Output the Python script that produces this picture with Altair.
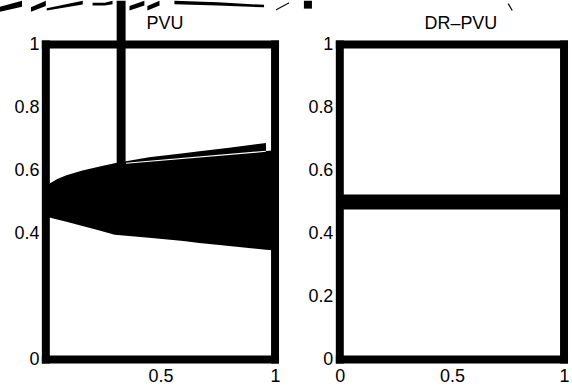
import altair as alt
import pandas as pd

FONT = "Liberation Sans"

# ---- panel titles ----
titles = ["PVU", "DR\u2013PVU"]
title_x = [0.52, 0.54]
title_y = 1.05

# ---- PVU panel: fan of trajectories (envelope) ----
fan_x = [0.0, 0.02, 0.05, 0.09, 0.16, 0.23, 0.30, 0.45, 0.60, 0.67, 0.80, 0.96, 0.961, 1.0]
fan_upper = [0.545, 0.56, 0.573, 0.585, 0.600, 0.612, 0.623, 0.642, 0.655, 0.661, 0.672, 0.687, 0.662, 0.664]
fan_lower = [0.455, 0.45, 0.444, 0.437, 0.424, 0.410, 0.396, 0.386, 0.376, 0.370, 0.360, 0.348, 0.348, 0.346]

# thin seam below the top trajectory
seam_x = [0.35, 0.96]
seam_y = [0.623, 0.661]

# stray thick strokes outside the PVU axes (vertical bar and small block)
bar_x1 = [0.309, 1.126]
bar_x2 = [0.348, 1.161]
bar_y1 = [0.62, 1.114]
bar_y2 = [1.139, 1.139]

# stray diagonal strokes above the PVU axes (each a thin band: lower / upper edge)
stray_id = ["a", "a", "b", "b", "c", "c", "d", "d", "d", "e", "e", "f", "f",
            "g", "g", "g", "k", "k"]
stray_x = [-0.2, -0.104, -0.065, 0.0, 0.004, 0.161, 0.204, 0.257, 0.291,
           0.365, 0.43, 0.443, 0.496, 0.561, 0.75, 0.952, 1.004, 1.061]
stray_lo = [1.104, 1.12, 1.104, 1.122, 1.108, 1.127, 1.124, 1.124, 1.128,
            1.108, 1.124, 1.108, 1.124, 1.128, 1.124, 1.118, 1.108, 1.130]
stray_hi = [1.12, 1.139, 1.118, 1.139, 1.115, 1.139, 1.133, 1.133, 1.139,
            1.122, 1.139, 1.122, 1.139, 1.139, 1.134, 1.126, 1.112, 1.134]

# ---- DR-PVU panel ----
dr_x = [0.0, 1.0]
dr_y = [0.5, 0.5]
dr_stray_x = [0.751, 0.769]
dr_stray_y = [1.13, 1.108]

left_y_ticks = [0, 0.4, 0.6, 0.8, 1]
left_x_ticks = [0.5, 1]
right_y_ticks = [0, 0.2, 0.4, 0.6, 0.8, 1]
right_x_ticks = [0, 0.5, 1]

fan_df = pd.DataFrame({"x": fan_x, "lo": fan_lower, "hi": fan_upper})
seam_df = pd.DataFrame({"x": seam_x, "y": seam_y})
bar_df = pd.DataFrame({"x1": bar_x1, "x2": bar_x2, "y1": bar_y1, "y2": bar_y2})
stray_df = pd.DataFrame({"id": stray_id, "x": stray_x, "lo": stray_lo, "hi": stray_hi})
dr_df = pd.DataFrame({"x": dr_x, "y": dr_y})
dr_stray_df = pd.DataFrame({"x": dr_stray_x, "y": dr_stray_y, "i": [0, 1]})

sx = alt.Scale(domain=[0, 1], nice=False, zero=False)
sy = alt.Scale(domain=[0, 1], nice=False, zero=False)

LW = 4  # half of the frame thickness, in pixels


def xax(vals):
    return alt.Axis(values=vals, format="~g", title=None, grid=False, domain=False,
                    ticks=False, labelPadding=8, labelFontSize=18, labelFont=FONT,
                    labelColor="black", labelFlush=False)


def yax(vals):
    return alt.Axis(values=vals, format="~g", title=None, grid=False, domain=False,
                    ticks=False, labelPadding=7, labelFontSize=18, labelFont=FONT,
                    labelColor="black", labelFlush=False)


def title_mark(t, tx):
    df = pd.DataFrame({"x": [tx], "y": [title_y], "t": [t]})
    return alt.Chart(df).mark_text(font=FONT, fontSize=18, color="black",
                                   baseline="alphabetic", align="center", clip=False).encode(
        x=alt.X("x:Q", scale=sx), y=alt.Y("y:Q", scale=sy), text="t:N"
    )


def frame(w, h):
    one = pd.DataFrame({"k": [0]})
    edges = [
        (-LW, w + LW, -LW, LW),          # top
        (-LW, w + LW, h - LW, h + LW),   # bottom
        (-LW, LW, -LW, h + LW),          # left
        (w - LW, w + LW, -LW, h + LW),   # right
    ]
    layers = []
    for x1, x2, y1, y2 in edges:
        layers.append(alt.Chart(one).mark_rect(color="black", clip=False).encode(
            x=alt.value(x1), x2=alt.value(x2), y=alt.value(y1), y2=alt.value(y2)))
    return layers


W1, W2, H = 230, 225, 316

fan = alt.Chart(fan_df).mark_area(color="black", opacity=1).encode(
    x=alt.X("x:Q", scale=sx, axis=xax(left_x_ticks)),
    y=alt.Y("lo:Q", scale=sy, axis=yax(left_y_ticks)),
    y2="hi:Q",
)
seam = alt.Chart(seam_df).mark_line(color="white", strokeWidth=1.2, strokeJoin="round").encode(
    x=alt.X("x:Q", scale=sx), y=alt.Y("y:Q", scale=sy)
)
bars = alt.Chart(bar_df).mark_rect(color="black", clip=False).encode(
    x=alt.X("x1:Q", scale=sx), x2="x2:Q",
    y=alt.Y("y1:Q", scale=sy), y2="y2:Q",
)
stray = alt.Chart(stray_df).mark_area(color="black", opacity=1, clip=False).encode(
    x=alt.X("x:Q", scale=sx), y=alt.Y("lo:Q", scale=sy), y2="hi:Q",
    detail="id:N",
)
left = alt.layer(fan, *frame(W1, H), seam, bars, stray,
                 title_mark(titles[0], title_x[0])).properties(width=W1, height=H)

dr_line = alt.Chart(dr_df).mark_line(color="black", strokeWidth=15, strokeCap="butt",
                                     strokeJoin="round").encode(
    x=alt.X("x:Q", scale=sx, axis=xax(right_x_ticks)),
    y=alt.Y("y:Q", scale=sy, axis=yax(right_y_ticks)),
)
dr_stray = alt.Chart(dr_stray_df).mark_line(color="black", strokeWidth=1.2, strokeJoin="round",
                                            clip=False).encode(
    x=alt.X("x:Q", scale=sx), y=alt.Y("y:Q", scale=sy), order=alt.Order("i:Q")
)
right = alt.layer(dr_line, *frame(W2, H), dr_stray,
                  title_mark(titles[1], title_x[1])).properties(width=W2, height=H)

chart = alt.hconcat(left, right, spacing=65, bounds="flush").properties(
    padding={"left": 0, "top": 0, "right": 0, "bottom": 0},
    background="white",
).configure_view(
    strokeWidth=0
)

chart.save("out.html", embed_options={"renderer": "svg", "actions": False})
